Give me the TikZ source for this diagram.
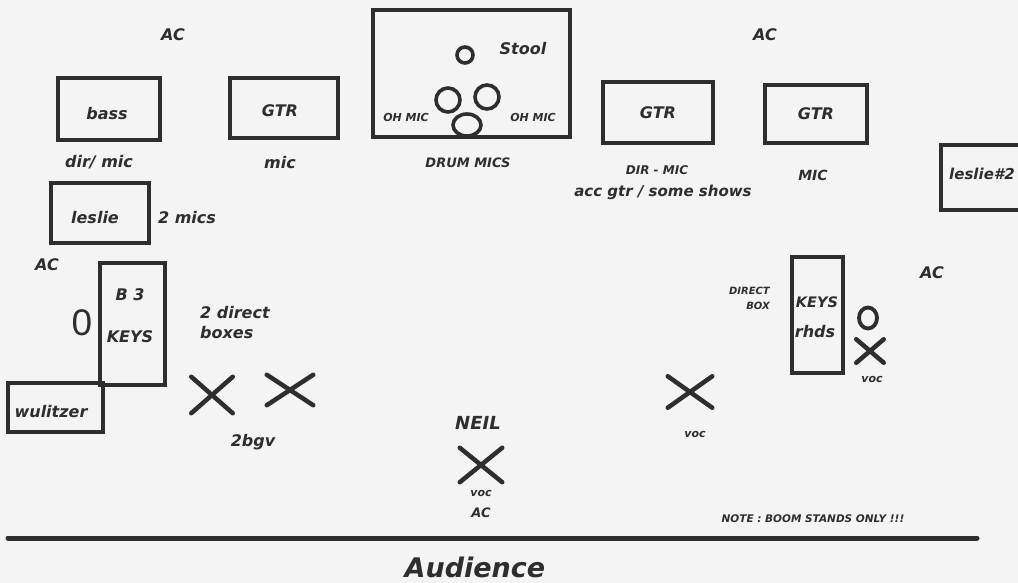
\documentclass[tikz,border=0pt]{standalone}
\usepackage{fontspec}
\setmainfont{DejaVu Sans}
\newfontfamily\zerofont{Liberation Sans}
\usetikzlibrary{shapes.geometric,shapes.misc}
\definecolor{ink}{RGB}{46,46,46}
\definecolor{paper}{RGB}{244,244,244}
\tikzset{amp/.style={draw=ink,line width=3.2pt,inner sep=0pt,text=ink,
    font=\bfseries\itshape\fontsize{16}{18}\selectfont}}
\tikzset{lbl/.style={text=ink,inner sep=0pt,font=\bfseries\itshape\fontsize{16}{20}\selectfont}}
\tikzset{tiny/.style={lbl,font=\bfseries\itshape\fontsize{11}{15}\selectfont}}
\tikzset{vocmark/.style={draw=ink,cross out,line width=4.5pt,line cap=round,inner sep=0pt}}
\tikzset{drum/.style={draw=ink,line width=3.6pt}}

\begin{document}
\begin{tikzpicture}[x=1pt,y=-1pt]
    \fill[paper] (0,0) rectangle (1018,583);
    \useasboundingbox (0,0) rectangle (1018,583);

    \foreach \x/\y/\n in {173/35/acA,765/35/acB,47/265/acC,932/273/acD}{
      \node[lbl] (\n) at (\x,\y) {AC};
    }

    % back line
    \node[amp,minimum width=102pt,minimum height=62pt] (bass) at (109,109) {};
    \node[lbl] (basstxt) at (107,114) {bass};
    \node[lbl] (bassmic) at (99,162) {dir/ mic};
    \node[amp,minimum width=108pt,minimum height=60pt] (gtrA) at (284,108) {};
    \node[lbl] (gtrAtxt) at (280,111) {GTR};
    \node[lbl] (gtrAmic) at (280,163) {mic};
    \node[amp,minimum width=197pt,minimum height=127pt] (kit) at (471.5,73.5) {};
    \draw[drum] (465,55) circle (8);
    \draw[drum] (448,100) circle (12);
    \draw[drum] (487,97) circle (12);
    \draw[drum,fill=paper] (467,125) ellipse (14 and 11);
    \node[lbl] (stool) at (523,49) {Stool};
    \node[tiny] (ohA) at (406,117) {OH MIC};
    \node[tiny] (ohB) at (533,117) {OH MIC};
    \node[lbl,font=\bfseries\itshape\fontsize{13}{15}\selectfont] (drummics) at (468,163) {DRUM MICS};
    \node[amp,minimum width=110pt,minimum height=61pt] (gtrB) at (658,112.5) {GTR};
    \node[lbl,font=\bfseries\itshape\fontsize{12}{14}\selectfont] (gtrBmic) at (657,170) {DIR - MIC};
    \node[lbl,font=\bfseries\itshape\fontsize{15}{17}\selectfont] (accgtr) at (663,192) {acc gtr / some shows};
    \node[amp,minimum width=102pt,minimum height=58pt] (gtrC) at (816,114) {GTR};
    \node[lbl,font=\bfseries\itshape\fontsize{14}{16}\selectfont] (gtrCmic) at (813,175) {MIC};
    \node[amp,minimum width=89pt,minimum height=65pt] (leslieB) at (985.5,177.5) {};
    \node[lbl,font=\bfseries\itshape\fontsize{15}{17}\selectfont] (leslieBtxt) at (982,174) {leslie\#2};

    % left keys
    \node[amp,minimum width=98pt,minimum height=60pt] (leslie) at (100,213) {};
    \node[lbl] (leslietxt) at (95,218) {leslie};
    \node[lbl] (lesliemics) at (187,218) {2 mics};
    \node[amp,minimum width=65pt,minimum height=122pt] (bthree) at (132.5,324) {};
    \node[lbl] (bthreetxt) at (130,295) {B 3};
    \node[lbl] (bthreekeys) at (130,337) {KEYS};
    \node[text=ink,inner sep=0pt,font=\zerofont\fontsize{37}{40}\selectfont] (stoolA) at (82,323) {0};
    \node[amp,minimum width=95pt,minimum height=49pt] (wuli) at (55.5,407.5) {};
    \node[lbl] (wulitxt) at (51,412) {wulitzer};
    \node[lbl,align=left,anchor=west] (diboxes) at (200,323) {2 direct\\boxes};
    \node[vocmark,minimum width=37pt,minimum height=32pt] (bgvA) at (212,395) {};
    \node[vocmark,minimum width=42pt,minimum height=26pt] (bgvB) at (290,390) {};
    \node[lbl] (bgv) at (253,442) {2bgv};

    % front
    \node[lbl,font=\bfseries\itshape\fontsize{18}{20}\selectfont] (neil) at (478,423) {NEIL};
    \node[vocmark,minimum width=38pt,minimum height=30pt] (neilvoc) at (481,465) {};
    \node[tiny] (neilvoctxt) at (481,493) {voc};
    \node[lbl,font=\bfseries\itshape\fontsize{13}{15}\selectfont] (neilac) at (481,513) {AC};
    \node[vocmark,minimum width=40pt,minimum height=27pt] (vocR) at (690,392) {};
    \node[tiny] (vocRtxt) at (695,434) {voc};

    % right keys
    \node[amp,minimum width=51pt,minimum height=116pt] (rhds) at (817.5,315) {};
    \node[lbl,font=\bfseries\itshape\fontsize{14.5}{16}\selectfont] (rhdskeys) at (817,302) {KEYS};
    \node[lbl] (rhdstxt) at (815,332) {rhds};
    \node[tiny,align=right,anchor=east,font=\bfseries\itshape\fontsize{10}{15}\selectfont] (dibox) at (770,298) {DIRECT\\BOX};
    \node[draw=ink,ellipse,line width=3.8pt,minimum width=18pt,minimum height=21pt,inner sep=0pt] (stoolB) at (868,318) {};
    \node[vocmark,minimum width=23pt,minimum height=19pt] (keysvoc) at (870,351) {};
    \node[tiny] (keysvoctxt) at (872,379) {voc};

    \node[tiny,font=\bfseries\itshape\fontsize{10.5}{12}\selectfont] (note) at (813,519) {NOTE : BOOM STANDS ONLY !!!};
    \coordinate (edgeL) at (8,538);
    \coordinate (edgeR) at (977,538);
    \draw[ink,line width=5pt,line cap=round] (edgeL) -- (edgeR);
    \node[lbl,font=\bfseries\itshape\fontsize{27}{30}\selectfont] (audience) at (475,567) {Audience};

\end{tikzpicture}
\end{document}
